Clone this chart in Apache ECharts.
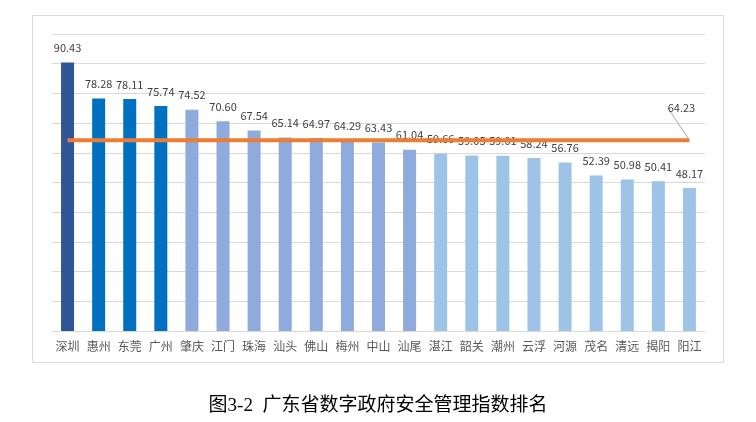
<!DOCTYPE html>
<html>
<head>
<meta charset="utf-8">
<script src="https://cdn.jsdelivr.net/npm/echarts@6/dist/echarts.min.js"></script>
<style>
html,body{margin:0;padding:0;background:#fff;}
#chart{width:756px;height:422px;}
</style>
</head>
<body>
<div id="chart"></div>
<script>
const categories = ['深圳','惠州','东莞','广州','肇庆','江门','珠海','汕头','佛山','梅州','中山','汕尾','湛江','韶关','潮州','云浮','河源','茂名','清远','揭阳','阳江'];
const values = [90.43,78.28,78.11,75.74,74.52,70.60,67.54,65.14,64.97,64.29,63.43,61.04,59.66,59.05,59.01,58.24,56.76,52.39,50.98,50.41,48.17];
const avgValue = 64.23;
const yTicks = {min:0, max:100, interval:10};
const titleText = '图3-2  广东省数字政府安全管理指数排名';
</script>
<script>
const tierColors = ['#2F5597','#0070C0','#8FAADC','#9DC3E6'];
function tierOf(i){ if(i===0) return 0; if(i<=3) return 1; if(i<=11) return 2; return 3; }
const chart = echarts.init(document.getElementById('chart'));
const barData = values.map((v,i)=>({value:v, itemStyle:{color:tierColors[tierOf(i)]}}));
const lineData = categories.map((c,i)=> i===categories.length-1 ? {value:avgValue,label:{show:true}} : avgValue);
chart.setOption({
  animation:false,
  title:{text:titleText, left:'center', top:392, textStyle:{fontSize:19, fontWeight:'normal', color:'#000', fontFamily:'"Liberation Serif","Noto Sans CJK SC",serif'}},
  graphic:[{type:'rect', shape:{x:32.5,y:15.5,width:691,height:347}, style:{fill:'none', stroke:'#D9D9D9', lineWidth:1}, silent:true}],
  grid:{left:52, right:51, top:34, bottom:91},
  xAxis:{type:'category', data:categories, axisTick:{show:false},
    axisLine:{lineStyle:{color:'#D9D9D9'}},
    axisLabel:{color:'#595959', fontSize:12, margin:9, fontFamily:'"Noto Sans CJK SC",sans-serif', interval:0}},
  yAxis:{type:'value', min:yTicks.min, max:yTicks.max, interval:yTicks.interval,
    axisLabel:{show:false}, axisLine:{show:false}, axisTick:{show:false},
    splitLine:{lineStyle:{color:'#D9D9D9'}}},
  series:[
    {type:'bar', data:barData, barWidth:13,
      label:{show:true, position:'top', distance:9, color:'#404040', fontSize:11, fontFamily:'"Noto Sans CJK SC",sans-serif', formatter:p=>p.value.toFixed(2)}},
    {type:'line', data:lineData, symbol:'circle', symbolSize:0, showSymbol:true, lineStyle:{color:'#ED7D31', width:4},
      itemStyle:{color:'#ED7D31'},
      label:{show:false, position:'top', color:'#404040', fontSize:11, fontFamily:'"Noto Sans CJK SC",sans-serif', formatter:p=>p.value.toFixed(2)},
      labelLayout:{dx:-8, dy:-22},
      labelLine:{show:true, lineStyle:{color:'#A6A6A6', width:1}}}
  ]
});
</script>
</body>
</html>
